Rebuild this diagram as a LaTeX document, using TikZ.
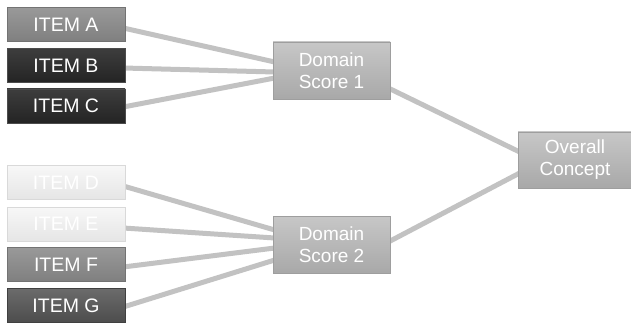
\documentclass[tikz,border=0pt]{standalone}
\usepackage{fontspec}
\setmainfont{Liberation Sans}
\usetikzlibrary{calc}
\pgfdeclarelayer{bg}
\pgfsetlayers{bg,main}
\definecolor{linkgray}{HTML}{C2C2C2}
\tikzset{
  box/.style={minimum width=118pt, minimum height=34pt, inner sep=0pt, text=white, font=\fontsize{19.5}{22}\selectfont, align=center, line width=0.6pt},
  itemdark/.style={box, top color=black!76, bottom color=black!86, draw=black!70},
  itemlight/.style={box, top color=black!3, bottom color=black!10, draw=black!15},
  itemmiddark/.style={box, top color=black!58, bottom color=black!70, draw=black!75},
  itemgrey/.style={box, top color=black!40, bottom color=black!50, draw=black!55},
  domainbox/.style={box, minimum width=117pt, minimum height=57pt, font=\fontsize{19}{22}\selectfont, top color=black!22, bottom color=black!34, draw=black!38},
  link/.style={draw=linkgray, line width=5pt}
}
\begin{document}
\begin{tikzpicture}[x=1pt,y=-1pt]
\useasboundingbox (0,0) rectangle (631,323);
\node[itemgrey] (a) at (66,24.5) {ITEM A};
\node[itemdark] (b) at (66,65.5) {ITEM B};
\node[itemdark] (c) at (66,106) {ITEM C};
\node[itemlight] (d) at (66,182.5) {ITEM D};
\node[itemlight] (e) at (66,224) {ITEM E};
\node[itemgrey] (f) at (66,264.5) {ITEM F};
\node[itemmiddark] (g) at (66,305.5) {ITEM G};
\node[domainbox] (d1) at (331.5,70.5) {Domain\\Score 1};
\node[domainbox] (d2) at (331.5,244.5) {Domain\\Score 2};
\node[domainbox, minimum width=114pt, minimum height=56pt] (ov) at (575,160) {Overall\\Concept};
\begin{pgfonlayer}{bg}
\draw[link] ($(a.east)+(-2,3.5)$) -- ($(d1.west)+(2,-8.5)$);
\draw[link] ($(b.east)+(-2,2.5)$) -- ($(d1.west)+(2,1.5)$);
\draw[link] ($(c.east)+(-2,1)$) -- ($(d1.west)+(2,7.5)$);
\draw[link] ($(d.east)+(-2,3.5)$) -- ($(d2.west)+(2,-14.5)$);
\draw[link] ($(e.east)+(-2,4)$) -- ($(d2.west)+(2,-6.5)$);
\draw[link] ($(f.east)+(-2,2.5)$) -- ($(d2.west)+(2,3.5)$);
\draw[link] ($(g.east)+(-2,1.5)$) -- ($(d2.west)+(2,15.5)$);
\draw[link] ($(d1.east)+(-2,17.5)$) -- ($(ov.west)+(2,-8)$);
\draw[link] ($(d2.east)+(-2,-2.5)$) -- ($(ov.west)+(2,13)$);
\end{pgfonlayer}
\end{tikzpicture}
\end{document}
